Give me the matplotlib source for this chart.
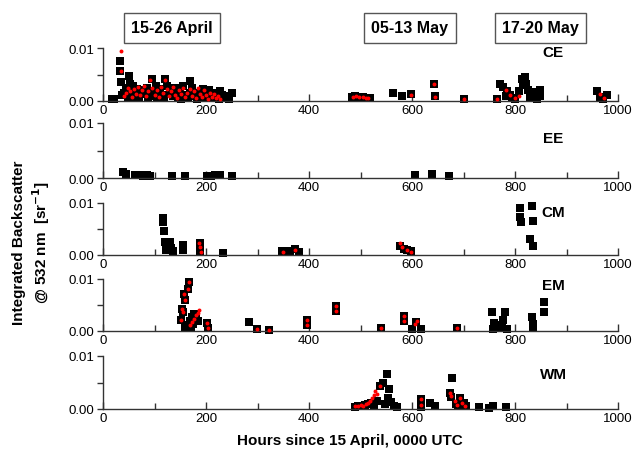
import matplotlib
matplotlib.use("Agg")
import matplotlib.pyplot as plt
from matplotlib.ticker import MultipleLocator, FormatStrFormatter

plt.rcParams['font.family'] = ['Liberation Sans', 'DejaVu Sans']

# ---- data (hours since 15 April, integrated backscatter sr^-1) ----
# CE
ce_h = [18, 22, 33, 33, 34, 36, 40, 45, 50, 52, 55, 58, 62, 66, 70, 75, 80, 85, 90, 95,
        98, 105, 110, 115, 120, 124, 130, 135, 140, 145, 150, 155, 160, 165, 169, 172,
        178, 185, 190, 195, 200, 205, 210, 215, 220, 225, 232, 238, 244, 250,
        48, 60, 73, 88, 102, 118, 138, 152, 168, 182, 198, 212, 228, 242,
        483, 490, 498, 505, 512, 518, 563, 580, 598, 643, 645, 701,
        765, 771, 777, 783, 790, 800, 813, 820, 815, 826, 835, 848, 848, 842, 830,
        808, 822, 838, 795, 785,
        960, 965, 970, 978]
ce_v = [0.0004, 0.0004, 0.0075, 0.0057, 0.0036, 0.0012, 0.0015, 0.0025, 0.0047, 0.0032,
        0.0018, 0.0028, 0.0012, 0.0022, 0.0008, 0.0020, 0.0014, 0.0025, 0.0010, 0.0042,
        0.0018, 0.0008, 0.0022, 0.0012, 0.0042, 0.0028, 0.0015, 0.0010, 0.0024, 0.0008,
        0.0018, 0.0028, 0.0012, 0.0006, 0.0038, 0.0024, 0.0010, 0.0016, 0.0008, 0.0022,
        0.0012, 0.0020, 0.0006, 0.0014, 0.0010, 0.0004, 0.0012, 0.0006, 0.0004, 0.0015,
        0.0008, 0.0006, 0.0016, 0.0006, 0.0028, 0.0006, 0.0018, 0.0004, 0.0016, 0.0004,
        0.0006, 0.0016, 0.0018, 0.0009,
        0.0008, 0.0009, 0.0008, 0.0007, 0.0006, 0.0005, 0.0015, 0.0010, 0.0013, 0.0032,
        0.0010, 0.0003,
        0.0003, 0.0032, 0.0026, 0.0010, 0.0012, 0.0003, 0.0042, 0.0045, 0.0030, 0.0021,
        0.0012, 0.0021, 0.0010, 0.0003, 0.0008,
        0.0018, 0.0033, 0.0017, 0.0006, 0.0018,
        0.0018, 0.0008, 0.0003, 0.0012]
ce_red_h = [35, 35, 40, 44, 48, 52, 56, 60, 64, 68, 72, 76, 80, 84, 88, 92, 96, 100, 104,
            108, 112, 116, 120, 124, 128, 132, 136, 140, 144, 148, 152, 156, 160, 164,
            168, 172, 176, 180, 184, 188, 192, 196, 200, 204, 208, 212, 216, 220, 224, 228,
            486, 492, 498, 504, 510, 515, 598, 643, 645, 701, 765, 783, 790, 800, 808, 965, 972]
ce_red_v = [0.0094, 0.0057, 0.0010, 0.0016, 0.0024, 0.0018, 0.0008, 0.0022, 0.0014, 0.0026,
            0.0012, 0.0020, 0.0028, 0.0010, 0.0018, 0.0040, 0.0024, 0.0012, 0.0020, 0.0008,
            0.0026, 0.0016, 0.0040, 0.0022, 0.0010, 0.0018, 0.0026, 0.0012, 0.0006, 0.0020,
            0.0014, 0.0024, 0.0008, 0.0016, 0.0022, 0.0010, 0.0018, 0.0006, 0.0024, 0.0014,
            0.0008, 0.0020, 0.0012, 0.0004, 0.0016, 0.0008, 0.0014, 0.0006, 0.0010, 0.0004,
            0.0008, 0.0009, 0.0008, 0.0007, 0.0006, 0.0005, 0.0012, 0.0032, 0.0008, 0.0003,
            0.0003, 0.0020, 0.0012, 0.0006, 0.0009, 0.0014, 0.0006]

# EE
ee_h = [39, 45, 62, 70, 78, 85, 91, 134, 159, 202, 210, 218, 227, 250, 606, 638, 672]
ee_v = [0.0011, 0.0007, 0.0005, 0.0005, 0.0004, 0.0005, 0.0003, 0.0004, 0.0004, 0.0004,
        0.0004, 0.0005, 0.0006, 0.0003, 0.0005, 0.0008, 0.0003]

# CM
cm_h = [116, 116, 118, 120, 130, 122, 133, 136, 155, 156, 188, 188, 233,
        348, 356, 364, 372, 380, 577, 584, 590, 598,
        810, 810, 812, 833, 834, 829, 834]
cm_v = [0.0071, 0.0064, 0.0046, 0.0025, 0.0025, 0.0010, 0.0013, 0.0007, 0.0020, 0.0010,
        0.0024, 0.0008, 0.0004,
        0.0007, 0.0005, 0.0008, 0.0012, 0.0005, 0.0018, 0.0012, 0.0010, 0.0007,
        0.0090, 0.0073, 0.0064, 0.0094, 0.0066, 0.0031, 0.0018]
cm_red_h = [186, 188, 190, 350, 372, 577, 580, 590, 598]
cm_red_v = [0.0024, 0.0015, 0.0006, 0.0006, 0.0010, 0.0023, 0.0016, 0.0010, 0.0006]

# EM
em_h = [167, 165, 157, 159, 153, 156, 152, 160, 164, 168, 172, 176, 180, 184, 170, 174,
        201, 203, 283, 299, 323, 396, 397, 452, 453,
        540, 584, 585, 600, 608, 617, 687,
        755, 781, 760, 776, 770, 758, 765, 785, 775,
        833, 835, 835, 856, 856]
em_v = [0.0094, 0.0081, 0.0071, 0.0060, 0.0042, 0.0036, 0.0022, 0.0005, 0.0012, 0.0020,
        0.0026, 0.0032, 0.0028, 0.0020, 0.0008, 0.0014,
        0.0015, 0.0006, 0.0017, 0.0003, 0.0001, 0.0021, 0.0012, 0.0048, 0.0038,
        0.0005, 0.0029, 0.0020, 0.0003, 0.0018, 0.0004, 0.0006,
        0.0037, 0.0037, 0.0016, 0.0022, 0.0008, 0.0003, 0.0010, 0.0004, 0.0012,
        0.0027, 0.0014, 0.0006, 0.0055, 0.0037]
em_red_h = [167, 165, 157, 159, 153, 156, 152, 168, 172, 176, 180, 184, 186,
            201, 203, 299, 323, 396, 397, 452, 453, 540, 584, 585, 606, 610, 687]
em_red_v = [0.0094, 0.0081, 0.0071, 0.0060, 0.0042, 0.0036, 0.0022, 0.0012, 0.0018,
            0.0024, 0.0030, 0.0034, 0.0041,
            0.0015, 0.0006, 0.0003, 0.0001, 0.0021, 0.0012, 0.0048, 0.0038, 0.0005,
            0.0029, 0.0020, 0.0014, 0.0020, 0.0006]

# WM
wm_h = [490, 496, 502, 508, 514, 520, 526, 532, 537, 543, 551, 556, 548, 553, 560, 565, 570,
        617, 617, 635, 645, 678, 674, 676, 693, 685, 690, 700, 705,
        730, 750, 758, 782]
wm_v = [0.0003, 0.0005, 0.0006, 0.0008, 0.0010, 0.0012, 0.0008, 0.0015, 0.0044, 0.0050,
        0.0066, 0.0037, 0.0010, 0.0020, 0.0013, 0.0006, 0.0003,
        0.0018, 0.0003, 0.0012, 0.0005, 0.0058, 0.0031, 0.0022, 0.0021, 0.0010, 0.0005,
        0.0012, 0.0005, 0.0004, 0.0001, 0.0005, 0.0003]
wm_red_h = [490, 495, 500, 505, 510, 515, 519, 523, 526, 529, 532, 537, 617, 618,
            674, 676, 683, 688, 693, 698, 703]
wm_red_v = [0.0006, 0.0005, 0.0007, 0.0006, 0.0009, 0.0011, 0.0015, 0.0020, 0.0027,
            0.0034, 0.0029, 0.0044, 0.0018, 0.0008, 0.0031, 0.0024, 0.0015, 0.0008,
            0.0021, 0.0012, 0.0006]

panels = [
    ("CE", ce_h, ce_v, ce_red_h, ce_red_v, 0.0093),
    ("EE", ee_h, ee_v, [], [], 0.0073),
    ("CM", cm_h, cm_v, cm_red_h, cm_red_v, 0.0083),
    ("EM", em_h, em_v, em_red_h, em_red_v, 0.0088),
    ("WM", wm_h, wm_v, wm_red_h, wm_red_v, 0.0066),
]

# axes rectangles in pixels (top, bottom) of the 0.01 .. 0.00 range
px_rows = [(49, 102), (124, 179), (204, 256), (280, 332), (357, 410)]

W, H = 636, 456
fig = plt.figure(figsize=(W / 100, H / 100), dpi=100)

left, right = 103, 618
for (name, bh, bv, rh, rv, ly), (top, bot) in zip(panels, px_rows):
    ax = fig.add_axes([left / W, 1 - bot / H, (right - left) / W, (bot - top) / H])
    ax.patch.set_alpha(0)
    ax.scatter(bh, bv, marker='s', s=34, color='black', linewidths=0, clip_on=False, zorder=2)
    if rh:
        ax.scatter(rh, rv, marker='o', s=8, color='red', linewidths=0, clip_on=False, zorder=3)
    ax.set_xlim(0, 1000)
    ax.set_ylim(0, 0.01)
    for s in ['top', 'right']:
        ax.spines[s].set_visible(False)
    for s in ['left', 'bottom']:
        ax.spines[s].set_color('#333333')
        ax.spines[s].set_linewidth(1.0)
    ax.xaxis.set_major_locator(MultipleLocator(200))
    ax.xaxis.set_minor_locator(MultipleLocator(100))
    ax.yaxis.set_major_locator(MultipleLocator(0.01))
    ax.yaxis.set_minor_locator(MultipleLocator(0.005))
    ax.yaxis.set_major_formatter(FormatStrFormatter('%.2f'))
    ax.tick_params(axis='x', which='both', direction='in', length=4, width=1,
                   color='#333333', labelsize=9.5, pad=2)
    ax.tick_params(axis='x', which='major', length=5)
    ax.tick_params(axis='y', which='both', direction='out', length=4, width=1,
                   color='#333333', labelsize=9.5, pad=2)
    ax.text(874, ly, name, fontsize=11, fontweight='bold', ha='center', va='center')

# boxed date labels, placed above the first panel
ax0 = fig.axes[0]
for x, lab in [(134, "15-26 April"), (596, "05-13 May"), (850, "17-20 May")]:
    ax0.text(x, 0.0138, lab, fontsize=11.5, fontweight='bold', ha='center', va='center',
             bbox=dict(boxstyle='square,pad=0.45', facecolor='white', edgecolor='#555555',
                       linewidth=1.0))

fig.text(350 / W, 1 - 441 / H, "Hours since 15 April, 0000 UTC", fontsize=11,
         fontweight='bold', ha='center', va='center')
fig.text(32 / W, 1 - 243 / H, "Integrated Backscatter\n@ 532 nm  [sr$^{\\mathbf{-1}}$]",
         fontsize=11, fontweight='bold', ha='center', va='center', rotation=90,
         linespacing=1.3)

fig.savefig("out.png", dpi=100)
